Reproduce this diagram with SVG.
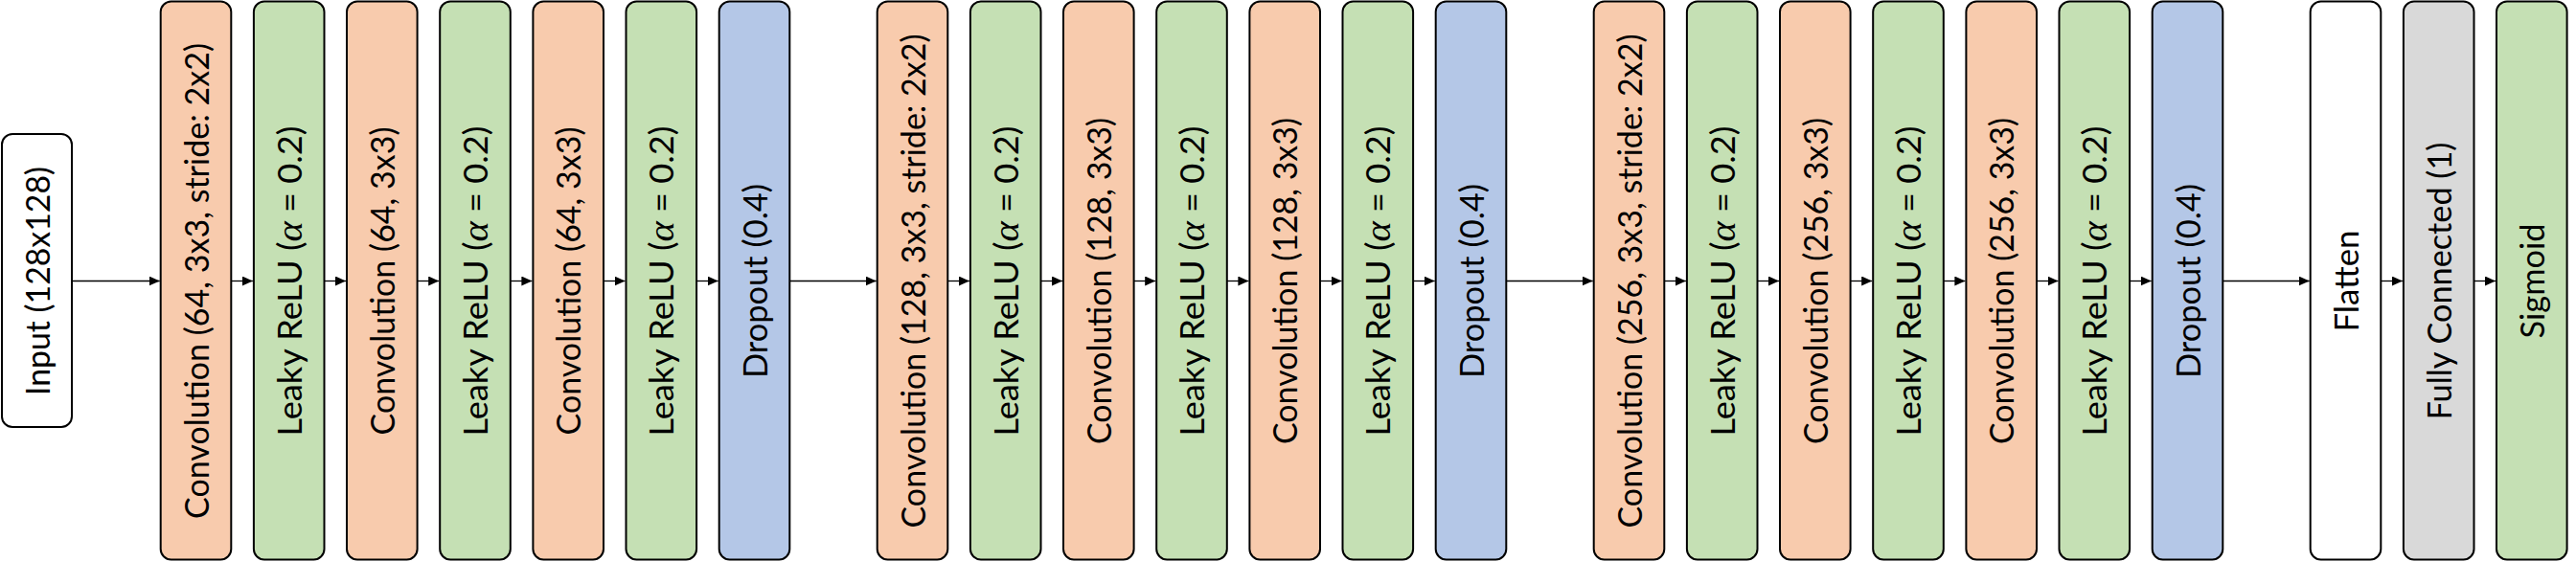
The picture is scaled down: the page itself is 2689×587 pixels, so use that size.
<svg xmlns="http://www.w3.org/2000/svg" width="2689" height="587" viewBox="0 0 2689 587">
<style>
.box{stroke:#000;stroke-width:2}
.conv{fill:#F8CBAD}
.relu{fill:#C5E0B4}
.drop{fill:#B4C7E7}
.fc{fill:#D9D9D9}
.white{fill:#FFFFFF}
text{font-family:Lato,"Open Sans","Liberation Sans",sans-serif;font-size:34px;fill:#000;text-anchor:middle}
.a{font-family:"Liberation Serif","DejaVu Serif",serif;font-style:italic;font-size:38px}
.conn{stroke:#000;stroke-width:1.3;fill:none;marker-end:url(#ah)}
</style>
<defs>
<marker id="ah" markerUnits="userSpaceOnUse" markerWidth="12" markerHeight="11" refX="11" refY="5" orient="auto">
<path d="M0,0 L11,5 L0,10 z" fill="#000"/>
</marker>
</defs>
<rect width="2689" height="587" fill="#fff"/>
<g id="connectors">
<path class="conn" d="M75,293.5 H166.7"/>
<path class="conn" d="M241.3,293.5 H263.9"/>
<path class="conn" d="M338.5,293.5 H361"/>
<path class="conn" d="M435.6,293.5 H458.2"/>
<path class="conn" d="M532.8,293.5 H555.4"/>
<path class="conn" d="M630,293.5 H652.5"/>
<path class="conn" d="M727.2,293.5 H749.7"/>
<path class="conn" d="M824.3,293.5 H914.7"/>
<path class="conn" d="M989.3,293.5 H1011.9"/>
<path class="conn" d="M1086.5,293.5 H1109"/>
<path class="conn" d="M1183.6,293.5 H1206.2"/>
<path class="conn" d="M1280.8,293.5 H1303.4"/>
<path class="conn" d="M1378,293.5 H1400.5"/>
<path class="conn" d="M1475.2,293.5 H1497.7"/>
<path class="conn" d="M1572.3,293.5 H1662.7"/>
<path class="conn" d="M1737.3,293.5 H1759.9"/>
<path class="conn" d="M1834.5,293.5 H1857"/>
<path class="conn" d="M1931.6,293.5 H1954.2"/>
<path class="conn" d="M2028.8,293.5 H2051.4"/>
<path class="conn" d="M2126,293.5 H2148.5"/>
<path class="conn" d="M2223.2,293.5 H2245.7"/>
<path class="conn" d="M2320.3,293.5 H2410.7"/>
<path class="conn" d="M2485.3,293.5 H2507.9"/>
<path class="conn" d="M2582.5,293.5 H2605"/>
</g>
<g id="input">
<rect class="box white" x="2" y="140" width="73" height="306" rx="11"/>
<text transform="translate(51.5,293.5) rotate(-90)" textLength="239" lengthAdjust="spacingAndGlyphs">Input (128x128)</text>
</g>
<g id="conv1_1">
<rect class="box conv" x="167.7" y="1.5" width="73.6" height="583" rx="11"/>
<text transform="translate(217.5,293.5) rotate(-90)" textLength="497" lengthAdjust="spacingAndGlyphs">Convolution (64, 3x3, stride: 2x2)</text>
</g>
<g id="relu1_1">
<rect class="box relu" x="264.9" y="1.5" width="73.6" height="583" rx="11"/>
<text transform="translate(314.7,293.5) rotate(-90)" textLength="324" lengthAdjust="spacingAndGlyphs">Leaky ReLU (<tspan class="a">α</tspan> = 0.2)</text>
</g>
<g id="conv1_2">
<rect class="box conv" x="362" y="1.5" width="73.6" height="583" rx="11"/>
<text transform="translate(411.8,293.5) rotate(-90)" textLength="322" lengthAdjust="spacingAndGlyphs">Convolution (64, 3x3)</text>
</g>
<g id="relu1_2">
<rect class="box relu" x="459.2" y="1.5" width="73.6" height="583" rx="11"/>
<text transform="translate(509,293.5) rotate(-90)" textLength="324" lengthAdjust="spacingAndGlyphs">Leaky ReLU (<tspan class="a">α</tspan> = 0.2)</text>
</g>
<g id="conv1_3">
<rect class="box conv" x="556.4" y="1.5" width="73.6" height="583" rx="11"/>
<text transform="translate(606.2,293.5) rotate(-90)" textLength="322" lengthAdjust="spacingAndGlyphs">Convolution (64, 3x3)</text>
</g>
<g id="relu1_3">
<rect class="box relu" x="653.5" y="1.5" width="73.6" height="583" rx="11"/>
<text transform="translate(703.3,293.5) rotate(-90)" textLength="324" lengthAdjust="spacingAndGlyphs">Leaky ReLU (<tspan class="a">α</tspan> = 0.2)</text>
</g>
<g id="drop1">
<rect class="box drop" x="750.7" y="1.5" width="73.6" height="583" rx="11"/>
<text transform="translate(800.5,293.5) rotate(-90)" textLength="203" lengthAdjust="spacingAndGlyphs">Dropout (0.4)</text>
</g>
<g id="conv2_1">
<rect class="box conv" x="915.7" y="1.5" width="73.6" height="583" rx="11"/>
<text transform="translate(965.5,293.5) rotate(-90)" textLength="516" lengthAdjust="spacingAndGlyphs">Convolution (128, 3x3, stride: 2x2)</text>
</g>
<g id="relu2_1">
<rect class="box relu" x="1012.9" y="1.5" width="73.6" height="583" rx="11"/>
<text transform="translate(1062.7,293.5) rotate(-90)" textLength="324" lengthAdjust="spacingAndGlyphs">Leaky ReLU (<tspan class="a">α</tspan> = 0.2)</text>
</g>
<g id="conv2_2">
<rect class="box conv" x="1110" y="1.5" width="73.6" height="583" rx="11"/>
<text transform="translate(1159.8,293.5) rotate(-90)" textLength="341" lengthAdjust="spacingAndGlyphs">Convolution (128, 3x3)</text>
</g>
<g id="relu2_2">
<rect class="box relu" x="1207.2" y="1.5" width="73.6" height="583" rx="11"/>
<text transform="translate(1257,293.5) rotate(-90)" textLength="324" lengthAdjust="spacingAndGlyphs">Leaky ReLU (<tspan class="a">α</tspan> = 0.2)</text>
</g>
<g id="conv2_3">
<rect class="box conv" x="1304.4" y="1.5" width="73.6" height="583" rx="11"/>
<text transform="translate(1354.2,293.5) rotate(-90)" textLength="341" lengthAdjust="spacingAndGlyphs">Convolution (128, 3x3)</text>
</g>
<g id="relu2_3">
<rect class="box relu" x="1401.5" y="1.5" width="73.6" height="583" rx="11"/>
<text transform="translate(1451.3,293.5) rotate(-90)" textLength="324" lengthAdjust="spacingAndGlyphs">Leaky ReLU (<tspan class="a">α</tspan> = 0.2)</text>
</g>
<g id="drop2">
<rect class="box drop" x="1498.7" y="1.5" width="73.6" height="583" rx="11"/>
<text transform="translate(1548.5,293.5) rotate(-90)" textLength="203" lengthAdjust="spacingAndGlyphs">Dropout (0.4)</text>
</g>
<g id="conv3_1">
<rect class="box conv" x="1663.7" y="1.5" width="73.6" height="583" rx="11"/>
<text transform="translate(1713.5,293.5) rotate(-90)" textLength="516" lengthAdjust="spacingAndGlyphs">Convolution (256, 3x3, stride: 2x2)</text>
</g>
<g id="relu3_1">
<rect class="box relu" x="1760.9" y="1.5" width="73.6" height="583" rx="11"/>
<text transform="translate(1810.7,293.5) rotate(-90)" textLength="324" lengthAdjust="spacingAndGlyphs">Leaky ReLU (<tspan class="a">α</tspan> = 0.2)</text>
</g>
<g id="conv3_2">
<rect class="box conv" x="1858" y="1.5" width="73.6" height="583" rx="11"/>
<text transform="translate(1907.8,293.5) rotate(-90)" textLength="341" lengthAdjust="spacingAndGlyphs">Convolution (256, 3x3)</text>
</g>
<g id="relu3_2">
<rect class="box relu" x="1955.2" y="1.5" width="73.6" height="583" rx="11"/>
<text transform="translate(2005,293.5) rotate(-90)" textLength="324" lengthAdjust="spacingAndGlyphs">Leaky ReLU (<tspan class="a">α</tspan> = 0.2)</text>
</g>
<g id="conv3_3">
<rect class="box conv" x="2052.4" y="1.5" width="73.6" height="583" rx="11"/>
<text transform="translate(2102.2,293.5) rotate(-90)" textLength="341" lengthAdjust="spacingAndGlyphs">Convolution (256, 3x3)</text>
</g>
<g id="relu3_3">
<rect class="box relu" x="2149.5" y="1.5" width="73.6" height="583" rx="11"/>
<text transform="translate(2199.3,293.5) rotate(-90)" textLength="324" lengthAdjust="spacingAndGlyphs">Leaky ReLU (<tspan class="a">α</tspan> = 0.2)</text>
</g>
<g id="drop3">
<rect class="box drop" x="2246.7" y="1.5" width="73.6" height="583" rx="11"/>
<text transform="translate(2296.5,293.5) rotate(-90)" textLength="203" lengthAdjust="spacingAndGlyphs">Dropout (0.4)</text>
</g>
<g id="flatten">
<rect class="box white" x="2411.7" y="1.5" width="73.6" height="583" rx="11"/>
<text transform="translate(2461.5,293.5) rotate(-90)" textLength="106" lengthAdjust="spacingAndGlyphs">Flatten</text>
</g>
<g id="fc">
<rect class="box fc" x="2508.9" y="1.5" width="73.6" height="583" rx="11"/>
<text transform="translate(2558.7,293.5) rotate(-90)" textLength="290" lengthAdjust="spacingAndGlyphs">Fully Connected (1)</text>
</g>
<g id="sigmoid">
<rect class="box relu" x="2606" y="1.5" width="73.6" height="583" rx="11"/>
<text transform="translate(2655.8,293.5) rotate(-90)" textLength="120" lengthAdjust="spacingAndGlyphs">Sigmoid</text>
</g>
</svg>
